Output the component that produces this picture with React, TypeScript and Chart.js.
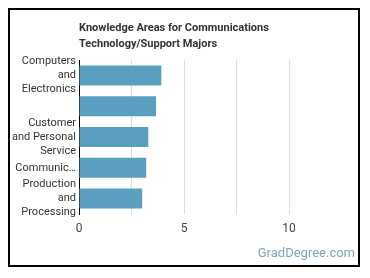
import React, { useEffect, useRef } from "react";
import { Chart, registerables } from "chart.js";

Chart.register(...registerables);

const categories: (string | string[])[] = [
  ["Computers", "and", "Electronics"],
  "",
  ["Customer", "and Personal", "Service"],
  "Communic…",
  ["Production", "and", "Processing"],
];
const values: number[] = [3.92, 3.67, 3.3, 3.2, 3.01];
const titleLines: string[] = ["Knowledge Areas for Communications", "Technology/Support Majors"];
const watermark = "GradDegree.com";
const FONT = "Roboto, 'Noto Sans', sans-serif";

const decorPlugin = {
  id: "decor",
  afterDraw(chart: any) {
    const ctx = chart.ctx;
    const area = chart.chartArea;
    ctx.save();
    ctx.fillStyle = "#333";
    ctx.font = `bold 11px ${FONT}`;
    ctx.textAlign = "left";
    ctx.textBaseline = "middle";
    titleLines.forEach((t, i) => ctx.fillText(t, area.left, 18 + i * 16));
    ctx.fillStyle = "#7aa6bf";
    ctx.font = `13px ${FONT}`;
    ctx.textAlign = "right";
    ctx.fillText(watermark, chart.width - 3, 244);
    ctx.restore();
  },
};

export default function App() {
  const ref = useRef<HTMLCanvasElement | null>(null);
  useEffect(() => {
    if (!ref.current) return;
    const chart = new Chart(ref.current, {
      type: "bar",
      data: {
        labels: categories,
        datasets: [
          {
            data: values,
            backgroundColor: "#5b9fbf",
            borderWidth: 0,
            categoryPercentage: 0.65,
            barPercentage: 1,
          },
        ],
      },
      options: {
        indexAxis: "y",
        animation: false,
        responsive: false,
        maintainAspectRatio: false,
        layout: { padding: { left: 0, right: 69, top: 50, bottom: 31 } },
        plugins: { legend: { display: false }, tooltip: { enabled: false }, title: { display: false } },
        scales: {
          x: {
            min: 0,
            max: 10,
            ticks: {
              stepSize: 2.5,
              autoSkip: false,
              maxRotation: 0,
              padding: 8,
              color: "#444",
              font: { family: FONT, size: 12 },
              callback: (v: any) => (Number(v) % 5 === 0 ? String(v) : ""),
            },
            grid: { color: "#dcdcdc", drawTicks: false },
            border: { display: false },
            afterFit: (s: any) => {
              s.height = 20;
            },
          },
          y: {
            ticks: {
              padding: 3,
              color: "#333",
              font: { family: FONT, size: 11, lineHeight: 1.27 },
              autoSkip: false,
            },
            grid: { display: false, drawTicks: false },
            border: { display: true, color: "#000", width: 1 },
            afterFit: (s: any) => {
              s.width = 69;
            },
          },
        },
      },
      plugins: [decorPlugin],
    });
    return () => chart.destroy();
  }, []);
  return (
    <div style={{ width: 348, height: 255, border: "2px solid #000" }}>
      <canvas ref={ref} width={348} height={255} style={{ display: "block" }} />
    </div>
  );
}
